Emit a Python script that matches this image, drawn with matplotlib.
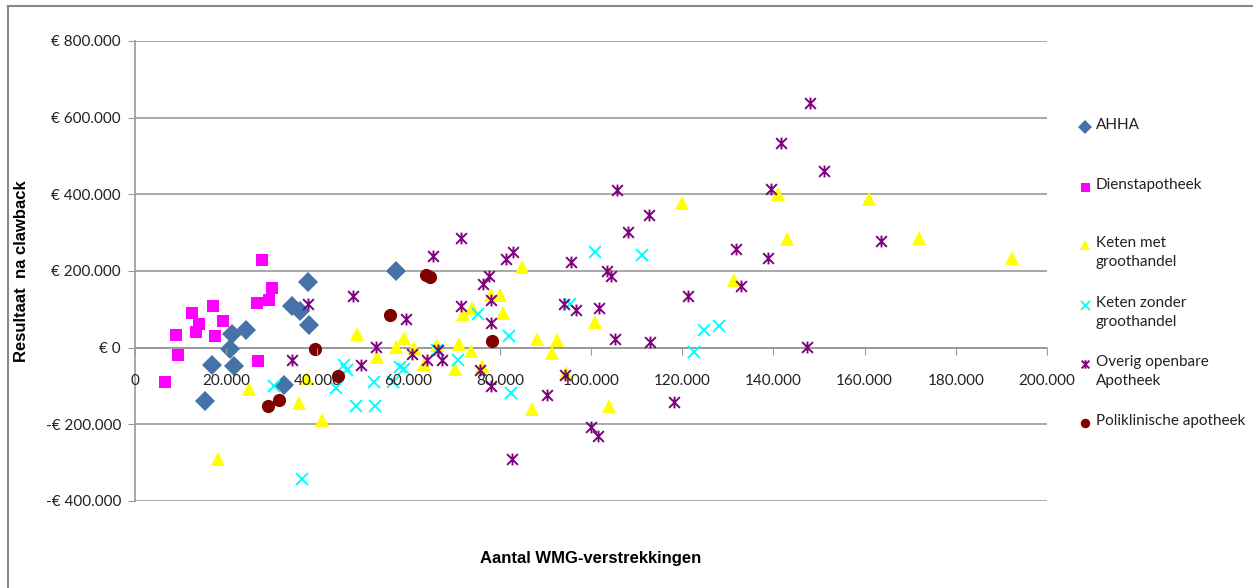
import numpy as np
import matplotlib
matplotlib.use("Agg")
import matplotlib.pyplot as plt
from matplotlib.path import Path
from matplotlib.lines import Line2D
from matplotlib.ticker import FuncFormatter, MultipleLocator

# Data: (Aantal WMG-verstrekkingen, Resultaat na clawback)
ahha_x = [15300, 16950, 20900, 21200, 21650, 24340, 32740, 34500, 36200, 37870, 38090, 57170]
ahha_y = [-139000, -46100, -2600, 36500, -48700, 45100, -96400, 109500, 94600, 171200, 58100, 198800]

dienst_x = [27920, 30040, 29390, 26820, 12500, 17100, 14040, 13380, 19300, 8930, 17480, 9500, 26970, 6580]
dienst_y = [227500, 155600, 123300, 115400, 89400, 109500, 62500, 39900, 68500, 33900, 29400, -20100, -33900, -89400]

ketenmet_x = [18140, 25000, 35900, 40950, 37650, 48680, 53140, 57170, 59060, 61120, 63450, 66230,
              70180, 70990, 72000, 73840, 73690, 78140, 80110, 80770, 84800, 76160, 87000, 88090,
              91450, 92610, 94450, 100810, 103950, 120020, 131290, 141080, 143050, 160970, 172000, 192390]
ketenmet_y = [-289300, -107600, -144100, -187600, -78200, 34700, -23500, 800, 26100, -1800, -42500, 7000,
              -55500, 9600, 86800, 103500, -9600, 138100, 136300, 91200, 209300, -48700, -160800, 21600,
              -13800, 20800, -65900, 65900, -153000, 377100, 176400, 401300, 283300, 389100, 284800, 234500]

ketenzonder_x = [30550, 36690, 44010, 45830, 46430, 48470, 52410, 52700, 56650, 58110, 59000, 66230,
                 70900, 75150, 82020, 82520, 95400, 100880, 111190, 122660, 124850, 128070]
ketenzonder_y = [-99000, -342200, -105000, -44300, -57300, -151100, -90400, -152400, -90400, -50300, -55000, -7000,
                 -31300, 88600, 29400, -117300, 114700, 249400, 242400, -10400, 45100, 55500]

overig_x = [34500, 38000, 47870, 49630, 52790, 59500, 60810, 63970, 65420, 66450, 67260, 71430,
            71560, 76380, 77570, 78070, 78000, 75660, 78000, 81290, 82960, 82680, 90420, 94230,
            94150, 95680, 96710, 100000, 101540, 101690, 103510, 104390, 105260, 105640, 108110, 112790,
            112940, 118200, 121210, 131730, 132900, 138880, 139410, 141600, 147440, 148030, 151170, 163600]
overig_y = [-31300, 113900, 135500, -46100, 800, 74800, -17500, -31300, 237900, -5200, -31300, 284800,
            107600, 166000, 185800, 125100, 65200, -57300, -100900, 231200, 250200, -289300, -122500, -70400,
            113900, 222300, 97200, -205900, -231200, 103500, 198800, 187600, 22700, 411700, 300500, 346600,
            13800, -140700, 134700, 257200, 160800, 233800, 414400, 535000, 800, 637700, 462100, 278100]

poli_x = [29100, 31580, 39410, 44450, 55920, 63820, 64690, 78360]
poli_y = [-151100, -135500, -3400, -73000, 84200, 188400, 184200, 18200]

labels = ["AHHA", "Dienstapotheek", "Keten met\ngroothandel", "Keten zonder\ngroothandel",
          "Overig openbare\nApotheek", "Poliklinische apotheek"]

# Excel-like star marker: x with a vertical bar
star = Path([(-1, -1), (1, 1), (-1, 1), (1, -1), (0, -1.1), (0, 1.1)],
            [Path.MOVETO, Path.LINETO, Path.MOVETO, Path.LINETO, Path.MOVETO, Path.LINETO])

styles = [
    dict(marker="D", color="#4572A7", ms=10, mew=0),
    dict(marker="s", color="#FF00FF", ms=9, mew=0),
    dict(marker="^", color="#FFFF00", ms=10, mew=0),
    dict(marker="x", color="#00FFFF", ms=9, mew=1.4),
    dict(marker=star, color="#800080", ms=8.5, mew=1.4),
    dict(marker="o", color="#800000", ms=9.5, mew=0),
]
series = [(ahha_x, ahha_y), (dienst_x, dienst_y), (ketenmet_x, ketenmet_y),
          (ketenzonder_x, ketenzonder_y), (overig_x, overig_y), (poli_x, poli_y)]

W, H = 1253, 588
fig = plt.figure(figsize=(W / 100, H / 100), dpi=100)
ax = fig.add_axes([135 / W, 1 - 501 / H, (1047 - 135) / W, (501 - 41) / H])

for (xs, ys), st in zip(series, styles):
    ax.plot(xs, ys, linestyle="none", marker=st["marker"], color=st["color"],
            markersize=st["ms"], markeredgewidth=st["mew"], zorder=3)

ax.set_xlim(0, 200000)
ax.set_ylim(-400000, 800000)
ax.xaxis.set_major_locator(MultipleLocator(20000))
ax.yaxis.set_major_locator(MultipleLocator(200000))

def euro(v, pos):
    s = f"{abs(int(round(v))):,}".replace(",", ".")
    return ("-€ " if v < 0 else "€ ") + s

ax.yaxis.set_major_formatter(FuncFormatter(euro))
ax.xaxis.set_major_formatter(FuncFormatter(lambda v, p: f"{int(v):,}".replace(",", ".")))

grid_c = "#999999"
ax.grid(axis="y", color=grid_c, linewidth=1.2)
ax.set_axisbelow(True)
ax.xaxis.set_zorder(4)  # x tick labels sit on top of the markers, as in the original
for s in ["top", "right"]:
    ax.spines[s].set_visible(False)
ax.spines["left"].set_color(grid_c)
ax.spines["left"].set_linewidth(1.2)
ax.spines["bottom"].set_position(("data", 0))
ax.spines["bottom"].set_color(grid_c)
ax.spines["bottom"].set_linewidth(1.2)

tick_font = "Lato"
ax.tick_params(axis="y", direction="out", length=5, color=grid_c, labelsize=11, pad=5)
ax.tick_params(axis="x", direction="out", length=5, color=grid_c, labelsize=11, pad=14)
for lab in ax.get_xticklabels() + ax.get_yticklabels():
    lab.set_fontfamily(tick_font)
    lab.set_color("#222222")

fig.text(591 / W, 1 - 558 / H, "Aantal WMG-verstrekkingen", ha="center", va="center",
         fontsize=12, fontweight="bold", family="Liberation Sans")
fig.text(22 / W, 1 - 271 / H, "Resultaat  na clawback", ha="center", va="center", rotation=90,
         fontsize=12, fontweight="bold", family="Liberation Sans")

# legend, laid out like the original
leg_y = [127, 187, 245, 305, 364, 423]
for lab, st, y in zip(labels, styles, leg_y):
    fig.add_artist(Line2D([1085 / W], [1 - y / H], linestyle="none", marker=st["marker"],
                          color=st["color"], markersize=st["ms"] * 0.72,
                          markeredgewidth=st["mew"], transform=fig.transFigure))
    fig.text(1096 / W, 1 - (y - 9) / H, lab, ha="left", va="top", fontsize=11,
             family=tick_font, linespacing=1.45, color="#222222")

# outer chart border (top and left visible)
fig.add_artist(Line2D([8 / W, 1], [1 - 6 / H, 1 - 6 / H], color="#888888", lw=1.5,
                      transform=fig.transFigure))
fig.add_artist(Line2D([8 / W, 8 / W], [0, 1 - 6 / H], color="#888888", lw=1.5,
                      transform=fig.transFigure))

fig.savefig("out.png", dpi=100)
